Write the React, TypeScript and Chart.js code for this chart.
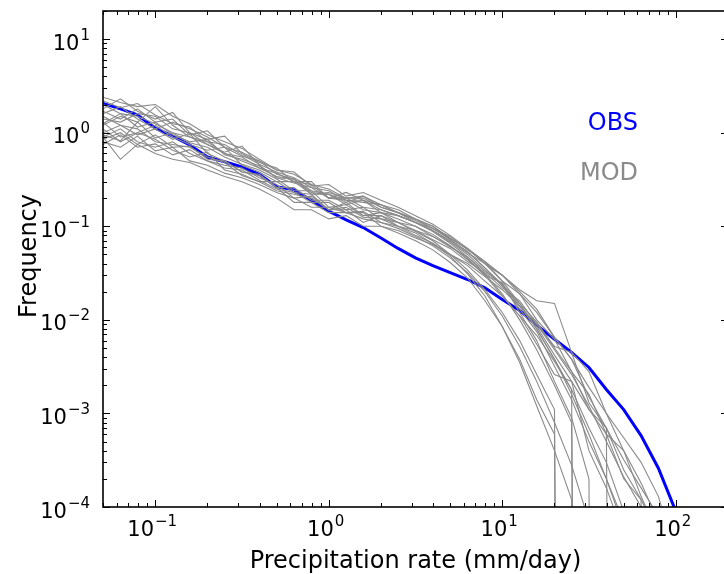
import { useEffect, useRef } from "react";
import { Chart, registerables } from "chart.js";

Chart.register(...registerables);

// empty bins (zero frequency) -> line drops straight off the log axis
const ZERO = 1e-30;

const rateBins = [
  0.05, 0.063, 0.079, 0.1, 0.126, 0.158, 0.2, 0.251, 0.316, 0.398,
  0.501, 0.631, 0.794, 1.0, 1.26, 1.58, 2.0, 2.51, 3.16, 3.98,
  5.01, 6.31, 7.94, 10, 12.6, 15.8, 20, 25.1, 31.6, 39.8,
  50.1, 63.1, 79.4, 100,
];

const obsFreq = [
  2.06, 1.8, 1.55, 1.12, 0.92, 0.74, 0.55, 0.49, 0.43, 0.36,
  0.265, 0.245, 0.19, 0.145, 0.117, 0.097, 0.075, 0.058, 0.046, 0.038,
  0.032, 0.027, 0.022, 0.0165, 0.0126, 0.0088, 0.0062, 0.0045, 0.0031, 0.0018,
  0.0011, 0.00058, 0.00026, 0.00009,
];

// one row per model run, same bins as rateBins
const modFreq = [
  [2.4, 2.1, 1.9, 2.0, 1.5, 1.25, 0.95, 0.8, 0.68, 0.52, 0.4, 0.38, 0.27, 0.28, 0.21, 0.23,
   0.19, 0.16, 0.13, 0.105, 0.08, 0.058, 0.04, 0.026, 0.015, 0.008, 0.0038, 0.0016, 0.0006, 0.0002,
   0.00007, ZERO, ZERO, ZERO],
  [1.8, 2.3, 1.7, 1.4, 1.65, 1.0, 0.85, 0.92, 0.6, 0.48, 0.42, 0.3, 0.3, 0.2, 0.23, 0.19,
   0.17, 0.14, 0.11, 0.088, 0.066, 0.047, 0.031, 0.019, 0.01, 0.0048, 0.002, 0.0008, ZERO, ZERO,
   ZERO, ZERO, ZERO, ZERO],
  [1.2, 1.5, 1.3, 1.9, 1.2, 0.9, 0.75, 0.62, 0.72, 0.45, 0.33, 0.32, 0.24, 0.22, 0.17, 0.19,
   0.15, 0.13, 0.11, 0.09, 0.07, 0.052, 0.04, 0.03, 0.02, 0.013, 0.0065, 0.0038, 0.0015, 0.0007,
   0.00032, 0.00016, 0.00008, ZERO],
  [0.95, 0.82, 1.3, 0.88, 1.0, 0.78, 0.7, 0.55, 0.46, 0.4, 0.32, 0.24, 0.24, 0.16, 0.17, 0.13,
   0.13, 0.11, 0.088, 0.07, 0.05, 0.034, 0.021, 0.012, 0.006, 0.0026, 0.0011, ZERO, ZERO, ZERO,
   ZERO, ZERO, ZERO, ZERO],
  [0.75, 0.95, 0.7, 0.76, 0.58, 0.66, 0.5, 0.42, 0.4, 0.31, 0.25, 0.23, 0.18, 0.18, 0.14, 0.145,
   0.11, 0.095, 0.078, 0.062, 0.046, 0.032, 0.02, 0.011, 0.0052, 0.0022, 0.0008, 0.00028, 0.00007, ZERO,
   ZERO, ZERO, ZERO, ZERO],
  [1.5, 1.2, 0.95, 1.1, 0.85, 0.98, 0.6, 0.5, 0.38, 0.35, 0.26, 0.18, 0.18, 0.14, 0.14, 0.12,
   0.11, 0.1, 0.08, 0.066, 0.05, 0.038, 0.026, 0.018, 0.011, 0.0068, 0.0036, 0.0018, 0.0007, 0.0003,
   0.00009, ZERO, ZERO, ZERO],
  [0.8, 0.7, 0.92, 0.64, 0.7, 0.5, 0.45, 0.37, 0.33, 0.28, 0.23, 0.2, 0.16, 0.16, 0.14, 0.14,
   0.1, 0.09, 0.075, 0.064, 0.05, 0.04, 0.029, 0.021, 0.014, 0.009, 0.0048, 0.0026, 0.0012, 0.0005,
   0.00021, 0.0001, 0.00004, ZERO],
  [2.0, 1.6, 1.5, 1.25, 1.0, 0.9, 0.8, 0.6, 0.5, 0.42, 0.37, 0.3, 0.28, 0.2, 0.19, 0.15,
   0.14, 0.12, 0.1, 0.082, 0.062, 0.045, 0.03, 0.025, 0.012, 0.006, 0.0022, 0.0009, 0.0002, ZERO,
   ZERO, ZERO, ZERO, ZERO],
  [1.0, 1.2, 1.1, 0.8, 0.75, 0.7, 0.55, 0.48, 0.35, 0.3, 0.24, 0.22, 0.2, 0.15, 0.15, 0.11,
   0.13, 0.1, 0.09, 0.072, 0.058, 0.042, 0.032, 0.022, 0.016, 0.009, 0.0052, 0.0045, 0.0013, 0.0007,
   0.00025, 0.00012, 0.00005, ZERO],
  [1.3, 0.9, 1.0, 1.2, 0.9, 0.75, 0.65, 0.7, 0.45, 0.38, 0.3, 0.3, 0.22, 0.23, 0.2, 0.21,
   0.17, 0.15, 0.12, 0.1, 0.075, 0.057, 0.04, 0.03, 0.021, 0.016, 0.015, 0.0045, 0.0028, 0.001,
   0.0004, 0.00013, 0.00005, ZERO],
  [0.9, 1.1, 0.8, 0.7, 0.8, 0.6, 0.5, 0.45, 0.42, 0.33, 0.28, 0.2, 0.21, 0.15, 0.16, 0.125,
   0.12, 0.1, 0.085, 0.065, 0.048, 0.031, 0.018, 0.0085, 0.0035, 0.0012, 0.0004, 0.00012, ZERO, ZERO,
   ZERO, ZERO, ZERO, ZERO],
  [1.6, 1.9, 1.4, 1.1, 1.3, 1.1, 0.9, 0.7, 0.56, 0.5, 0.36, 0.32, 0.23, 0.22, 0.18, 0.21,
   0.16, 0.14, 0.115, 0.095, 0.072, 0.053, 0.036, 0.024, 0.014, 0.008, 0.0038, 0.0018, ZERO, ZERO,
   ZERO, ZERO, ZERO, ZERO],
  [1.1, 0.8, 1.0, 0.85, 0.65, 0.55, 0.62, 0.4, 0.36, 0.3, 0.3, 0.23, 0.22, 0.15, 0.18, 0.13,
   0.14, 0.11, 0.1, 0.078, 0.062, 0.044, 0.03, 0.018, 0.011, 0.0055, 0.0026, 0.0022, 0.0004, 0.00016,
   0.00005, ZERO, ZERO, ZERO],
  [0.9, 0.52, 0.75, 0.6, 0.52, 0.48, 0.4, 0.34, 0.3, 0.25, 0.2, 0.15, 0.15, 0.12, 0.13, 0.1,
   0.1, 0.085, 0.07, 0.056, 0.041, 0.028, 0.016, 0.0085, 0.0038, 0.0014, 0.0006, ZERO, ZERO, ZERO,
   ZERO, ZERO, ZERO, ZERO],
  [1.4, 1.3, 1.6, 1.5, 1.1, 1.0, 0.75, 0.6, 0.55, 0.42, 0.34, 0.32, 0.22, 0.22, 0.19, 0.19,
   0.14, 0.13, 0.11, 0.095, 0.074, 0.058, 0.042, 0.03, 0.019, 0.012, 0.0065, 0.0038, 0.0019, 0.001,
   0.00055, 0.0003, 0.00013, 0.00003],
  [1.7, 1.4, 1.8, 1.3, 1.4, 0.95, 1.05, 0.7, 0.62, 0.5, 0.4, 0.36, 0.28, 0.25, 0.2, 0.2,
   0.16, 0.14, 0.12, 0.1, 0.072, 0.054, 0.036, 0.023, 0.013, 0.0075, 0.0032, 0.0014, 0.0005, 0.0002,
   0.00006, ZERO, ZERO, ZERO],
  [0.85, 1.0, 0.75, 0.95, 0.7, 0.72, 0.52, 0.5, 0.38, 0.36, 0.26, 0.26, 0.19, 0.19, 0.15, 0.16,
   0.12, 0.11, 0.09, 0.078, 0.06, 0.047, 0.033, 0.024, 0.015, 0.0095, 0.005, 0.0028, 0.0011, 0.0006,
   0.0002, 0.00012, ZERO, ZERO],
  [1.25, 1.6, 1.15, 1.3, 0.95, 0.8, 0.85, 0.58, 0.52, 0.44, 0.33, 0.29, 0.26, 0.2, 0.2, 0.16,
   0.15, 0.13, 0.11, 0.09, 0.068, 0.05, 0.034, 0.024, 0.014, 0.0085, 0.0042, 0.0022, 0.0011, 0.0007,
   ZERO, ZERO, ZERO, ZERO],
  [2.2, 1.85, 2.05, 1.55, 1.25, 1.15, 0.8, 0.75, 0.58, 0.46, 0.38, 0.33, 0.26, 0.24, 0.19, 0.18,
   0.17, 0.14, 0.12, 0.095, 0.078, 0.056, 0.042, 0.026, 0.019, 0.01, 0.0062, 0.0028, 0.0016, 0.0006,
   0.0004, 0.00018, 0.00007, ZERO],
];

const xRange = [0.05, 200];
const yRange = [1e-4, 20];
const xTickExps = [-1, 0, 1, 2];
const yTickExps = [-4, -3, -2, -1, 0, 1];
const seriesNames = ["OBS", "MOD"];
const seriesColors = ["#0000ff", "#8a8a8a"];
const xTitle = "Precipitation rate (mm/day)";
const yTitle = "Frequency";

const FONT = "'DejaVu Sans', sans-serif";

const expText = (e: number) => (e < 0 ? "\u2212" + Math.abs(e) : String(e));

function powWidth(ctx: CanvasRenderingContext2D, e: number) {
  ctx.font = `21px ${FONT}`;
  const a = ctx.measureText("10").width;
  ctx.font = `15px ${FONT}`;
  return a + 1 + ctx.measureText(expText(e)).width;
}

function drawPow(ctx: CanvasRenderingContext2D, e: number, left: number, base: number) {
  ctx.textAlign = "left";
  ctx.textBaseline = "alphabetic";
  ctx.font = `21px ${FONT}`;
  ctx.fillText("10", left, base);
  const w = ctx.measureText("10").width;
  ctx.font = `15px ${FONT}`;
  ctx.fillText(expText(e), left + w + 1, base - 10);
}

const axisDecor = {
  id: "axisDecor",
  afterDraw(chart: any) {
    const { ctx, chartArea: a, scales } = chart;
    const xs = scales.x;
    const ys = scales.y;
    ctx.save();

    // inward ticks on all four sides
    ctx.strokeStyle = "#000";
    ctx.lineWidth = 1;
    ctx.beginPath();
    for (let e = Math.floor(Math.log10(xs.min)); e <= Math.floor(Math.log10(xs.max)); e++) {
      for (let m = 1; m <= 9; m++) {
        const v = m * Math.pow(10, e);
        if (v < xs.min * 0.999 || v > xs.max * 1.001) continue;
        const px = Math.round(xs.getPixelForValue(v)) + 0.5;
        const len = m === 1 ? 7 : 4;
        ctx.moveTo(px, a.bottom);
        ctx.lineTo(px, a.bottom - len);
        ctx.moveTo(px, a.top);
        ctx.lineTo(px, a.top + len);
      }
    }
    for (let e = Math.floor(Math.log10(ys.min)); e <= Math.floor(Math.log10(ys.max)); e++) {
      for (let m = 1; m <= 9; m++) {
        const v = m * Math.pow(10, e);
        if (v < ys.min * 0.999 || v > ys.max * 1.001) continue;
        const py = Math.round(ys.getPixelForValue(v)) + 0.5;
        const len = m === 1 ? 7 : 4;
        ctx.moveTo(a.left, py);
        ctx.lineTo(a.left + len, py);
        ctx.moveTo(a.right, py);
        ctx.lineTo(a.right - len, py);
      }
    }
    ctx.stroke();

    // frame
    ctx.lineWidth = 1.6;
    ctx.strokeRect(a.left, a.top, a.right - a.left, a.bottom - a.top);

    // tick labels
    ctx.fillStyle = "#000";
    xTickExps.forEach((e) => {
      const px = xs.getPixelForValue(Math.pow(10, e));
      const w = powWidth(ctx, e);
      drawPow(ctx, e, px - 3 - w / 2, a.bottom + 29);
    });
    yTickExps.forEach((e) => {
      const py = ys.getPixelForValue(Math.pow(10, e));
      const w = powWidth(ctx, e);
      drawPow(ctx, e, a.left - 13 - w, py + 10.5);
    });

    // axis titles
    ctx.font = `24px ${FONT}`;
    ctx.textAlign = "center";
    ctx.textBaseline = "alphabetic";
    ctx.fillText(xTitle, (a.left + a.right) / 2, a.bottom + 61);
    ctx.save();
    ctx.translate(36, (a.top + a.bottom) / 2 - 3);
    ctx.rotate(-Math.PI / 2);
    ctx.fillText(yTitle, 0, 0);
    ctx.restore();

    // in-plot series labels
    ctx.textAlign = "right";
    seriesNames.forEach((name, i) => {
      ctx.fillStyle = seriesColors[i];
      ctx.fillText(name, 638, 130 + i * 50);
    });

    ctx.restore();
  },
};

const App = () => {
  const canvasRef = useRef<HTMLCanvasElement>(null);

  useEffect(() => {
    if (!canvasRef.current) return;
    const ctx = canvasRef.current.getContext("2d");
    if (!ctx) return;

    const toPoints = (vals: number[]) => rateBins.map((x, i) => ({ x, y: vals[i] }));

    const chart = new Chart(ctx, {
      type: "line",
      data: {
        datasets: [
          ...modFreq.map((vals, i) => ({
            label: `${seriesNames[1]} ${i + 1}`,
            data: toPoints(vals),
            borderColor: seriesColors[1],
            borderWidth: 1.1,
            pointRadius: 0,
            tension: 0,
          })),
          {
            label: seriesNames[0],
            data: toPoints(obsFreq),
            borderColor: seriesColors[0],
            borderWidth: 3,
            pointRadius: 0,
            tension: 0,
          },
        ],
      },
      options: {
        responsive: false,
        animation: false,
        events: [],
        layout: { padding: { left: 103, right: 12, top: 11, bottom: 67 } },
        plugins: { legend: { display: false }, tooltip: { enabled: false } },
        scales: {
          x: { type: "logarithmic", display: false, min: xRange[0], max: xRange[1], bounds: "data" },
          y: { type: "logarithmic", display: false, min: yRange[0], max: yRange[1], bounds: "data" },
        },
      },
      plugins: [axisDecor],
    });

    return () => chart.destroy();
  }, []);

  return (
    <div style={{ position: "absolute", left: 0, top: 0, width: 724, height: 574, overflow: "hidden", background: "#fff" }}>
      <canvas ref={canvasRef} width={740} height={574} style={{ width: 740, height: 574, display: "block" }} />
    </div>
  );
};

export default App;
